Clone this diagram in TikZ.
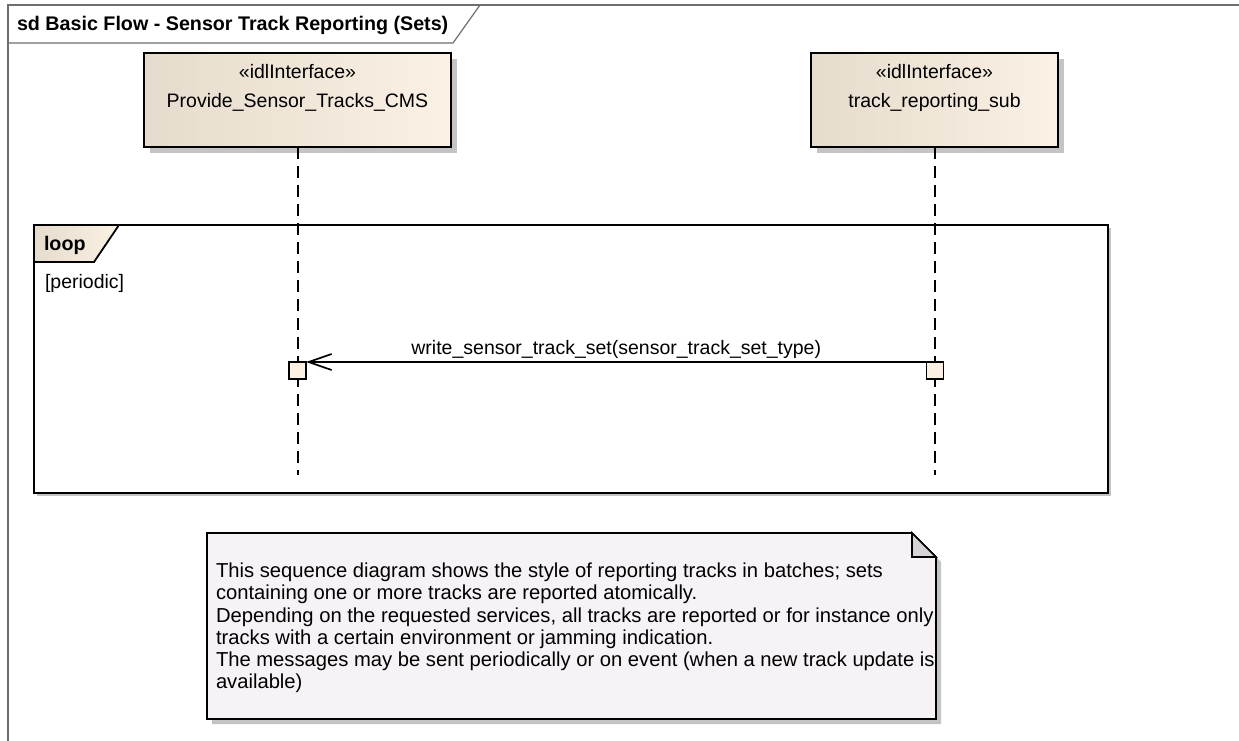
\documentclass[tikz,border=0pt]{standalone}
\usepackage{fontspec}
\setmainfont{Liberation Sans}
\usetikzlibrary{arrows.meta,shadows}
\definecolor{headL}{RGB}{229,220,205}
\definecolor{headR}{RGB}{251,241,228}
\definecolor{actfill}{RGB}{251,240,225}
\definecolor{notefill}{RGB}{246,242,246}
\definecolor{foldfill}{RGB}{214,210,214}
\definecolor{shadowgray}{RGB}{196,196,196}
\definecolor{framegray}{RGB}{110,110,110}
\begin{document}
\begin{tikzpicture}[x=1pt,y=-1pt,
  every node/.style={inner sep=0pt, outer sep=0pt},
  txt/.style={font=\fontsize{19.5}{22.4}\selectfont},
  btxt/.style={font=\fontsize{19.7}{22.4}\selectfont\bfseries},
  notetxt/.style={font=\fontsize{20.2}{22.2}\selectfont, align=left},
  framel/.style={draw=framegray, line width=1.2pt},
  head/.style={draw=black, line width=2pt, left color=headL, right color=headR,
    drop shadow={shadow xshift=6pt, shadow yshift=-6pt, fill=shadowgray, opacity=1}},
  act/.style={draw=black, line width=1.8pt, fill=actfill},
  lifeline/.style={draw=black, line width=2pt, dash pattern=on 12pt off 7pt},
  msg/.style={draw=black, line width=1.7pt, -{Straight Barb[length=23pt, width=16pt, line width=1.7pt]}},
  loopbox/.style={draw=black, line width=2pt, fill=white,
    drop shadow={shadow xshift=2.5pt, shadow yshift=-2.5pt, fill=shadowgray, opacity=1}},
  looptab/.style={draw=black, line width=1.8pt, left color=headL, right color=headR},
  notebox/.style={draw=black, line width=1.6pt, fill=notefill,
    drop shadow={shadow xshift=5pt, shadow yshift=-5pt, fill=shadowgray, opacity=1}},
  foldtri/.style={draw=black, line width=1.6pt, fill=foldfill, line join=miter}
]
\useasboundingbox (0,0) rectangle (1239,740);
\fill[white] (0,0) rectangle (1239,740);

% diagram frame
\draw[framel] (8,760) -- (8,5) -- (1260,5);
\draw[framel] (8,43) -- (453,43) -- (480,5);
\node[btxt, anchor=west] (title) at (17,25) {sd Basic Flow - Sensor Track Reporting (Sets)};

% loop fragment
\node[loopbox, minimum width=1074pt, minimum height=268pt] (loop) at (571,359) {};
\draw[looptab] (loop.north west) -- ++(85,0) -- ++(-25,37) -- ++(-60,0) -- cycle;
\node[btxt, anchor=west] (looplbl) at (44,245) {loop};
\node[txt, anchor=west] (guard) at (45,283) {[periodic]};

% lifeline heads
\node[head, minimum width=307pt, minimum height=94pt] (h1) at (297.5,100) {};
\node[txt] (h1s) at (297.5,72) {«idlInterface»};
\node[txt] (h1n) at (297.5,102) {Provide\_Sensor\_Tracks\_CMS};
\node[head, minimum width=247pt, minimum height=94pt] (h2) at (934.5,100) {};
\node[txt] (h2s) at (934.5,72) {«idlInterface»};
\node[txt] (h2n) at (934.5,102) {track\_reporting\_sub};

% lifelines
\coordinate (e1) at (297.5,475);
\coordinate (e2) at (935,475);
\draw[lifeline] (h1.south) -- (e1);
\draw[lifeline] (h2.south -| e2) -- (e2);

% activations
\node[act, minimum width=17pt, minimum height=17pt] (a1) at (297.5,370.5) {};
\node[act, minimum width=17pt, minimum height=17pt] (a2) at (935,370.5) {};

% message
\draw[msg] (a2.north west) -- node[txt, above=3pt] (msglbl) {write\_sensor\_track\_set(sensor\_track\_set\_type)} (a1.north east);

% note
\draw[notebox] (207,533) -- (912,533) -- (936,557) -- (936,719) -- (207,719) -- cycle;
\draw[foldtri] (912,533) -- (912,557) -- (936,557) -- cycle;
\node[notetxt, anchor=north west] (notetext) at (216,563) {This sequence diagram shows the style of reporting tracks in batches; sets\\
containing one or more tracks are reported atomically.\\
Depending on the requested services, all tracks are reported or for instance only\\
tracks with a certain environment or jamming indication.\\
The messages may be sent periodically or on event (when a new track update is\\
available)};
\end{tikzpicture}
\end{document}
